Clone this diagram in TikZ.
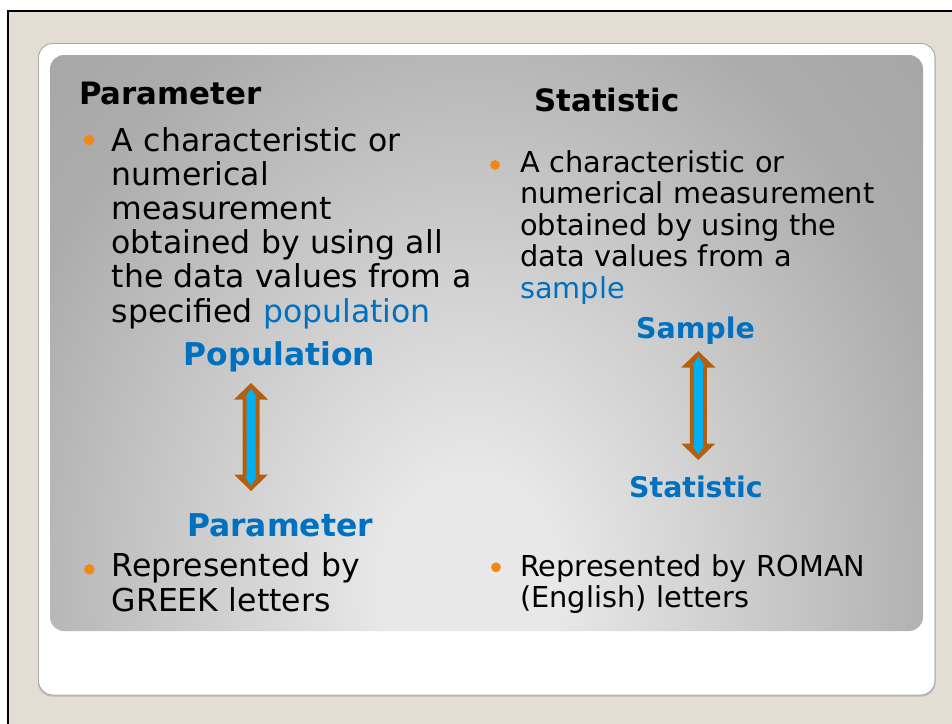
\documentclass[tikz,border=0pt]{standalone}
\usepackage{fontspec}
\setmainfont{DejaVu Sans}
\usetikzlibrary{calc}
\definecolor{beige}{RGB}{227,221,211}
\definecolor{hblue}{RGB}{0,112,192}
\definecolor{bulletc}{RGB}{242,135,20}
\definecolor{abrown}{RGB}{181,95,12}
\definecolor{acyan}{RGB}{0,176,240}
\definecolor{pdark}{RGB}{172,172,172}
\definecolor{pdarker}{RGB}{155,155,155}
\definecolor{plight}{RGB}{232,232,232}
\definecolor{boxedge}{RGB}{170,170,170}
\pgfdeclareradialshading{panelshade}{\pgfpoint{0bp}{0bp}}{color(0bp)=(plight); color(2.5bp)=(plight); color(14bp)=(pdark); color(25bp)=(pdarker); color(50bp)=(pdarker)}
\pgfdeclareverticalshading{boxshade}{100bp}{color(0bp)=(boxedge!45); color(2bp)=(white); color(100bp)=(white)}
\newcommand\dblarrow[1]{%
  \fill[abrown] (#1t) -- ++(17,16.5) -- ++(-8.5,0) -- ($(#1b)+(8.5,-16.5)$) -- ++(8.5,0) -- (#1b)
     -- ++(-17,-16.5) -- ++(8.5,0) -- ($(#1t)+(-8.5,16.5)$) -- ++(-8.5,0) -- cycle;
  \fill[acyan] ($(#1t)+(0,5.5)$) -- ++(6,9) -- ++(-1.5,0) -- ($(#1b)+(4.5,-14.5)$) -- ++(1.5,0) -- ($(#1b)+(0,-5.5)$)
     -- ++(-6,-9) -- ++(1.5,0) -- ($(#1t)+(-4.5,14.5)$) -- ++(-1.5,0) -- cycle;
}
\tikzset{
  titletext/.style={anchor=base west, inner sep=0pt, font=\bfseries\fontsize{30.8pt}{36pt}\selectfont},
  headtext/.style={anchor=base, inner sep=0pt, text=hblue},
  bodytext/.style={anchor=base west, inner sep=0pt, text width=420pt, align=left},
  lbody/.style={bodytext, font=\fontsize{31.5pt}{34.2pt}\selectfont},
  rbody/.style={bodytext, font=\fontsize{28.8pt}{31.5pt}\selectfont},
  bulletdot/.style={fill=bulletc}
}
\begin{document}
\begin{tikzpicture}[x=1pt,y=-1pt]
\useasboundingbox (0,0) rectangle (952,723);
\clip (0,0) rectangle (952,723);
% page background and frame
\fill[white] (0,0) rectangle (952,723);
\fill[beige] (8,11) rectangle (970,740);
\draw[line width=2.5pt] (8,11) rectangle (970,740);
% white card
\fill[boxedge!80, rounded corners=14pt] (38,45) rectangle (935.5,696.5);
\shade[shading=boxshade, rounded corners=14pt] (38.8,43.8) rectangle (934.5,694.8);
\draw[boxedge, line width=0.9pt, rounded corners=14pt] (38.5,43.5) rectangle (935,695);
% grey panel
\begin{scope}
  \clip[rounded corners=14pt] (50,55) rectangle (923,631);
  \shade[shading=panelshade] (-410,-530) rectangle (1350,1710);
\end{scope}
% titles
\node[titletext] (ptitle) at (79,104) {Parameter};
\node[titletext] (stitle) at (534.3,111.7) {Statistic};
% left column
\fill[bulletdot] (89,140) circle (5.3pt);
\node[lbody] (ldef) at (111.5,151) {A characteristic or\\numerical\\measurement\\obtained by using all\\the data values from a\\specified \textcolor{hblue}{population}};
\node[headtext, font=\bfseries\fontsize{31.4pt}{36pt}\selectfont] (pop) at (279.5,365) {Population};
\node[headtext, font=\bfseries\fontsize{31.4pt}{36pt}\selectfont] (par) at (280,536.7) {Parameter};
\coordinate (lat) at (251,383);
\coordinate (lab) at (251,491);
\dblarrow{la}
\fill[bulletdot] (89.3,569.3) circle (5.3pt);
\node[lbody, font=\fontsize{31.5pt}{35pt}\selectfont] (lrep) at (111.5,576.7) {Represented by\\GREEK letters};
% right column
\fill[bulletdot] (495,165) circle (4.9pt);
\node[rbody] (rdef) at (520,172.3) {A characteristic or\\numerical measurement\\obtained by using the\\data values from a\\\textcolor{hblue}{sample}};
\node[headtext, font=\bfseries\fontsize{28.5pt}{34pt}\selectfont] (samp) at (695.5,338.3) {Sample};
\node[headtext, font=\bfseries\fontsize{28.4pt}{34pt}\selectfont] (stat) at (696,497.3) {Statistic};
\coordinate (rat) at (698.3,351);
\coordinate (rab) at (698.3,460);
\dblarrow{ra}
\fill[bulletdot] (496,567.3) circle (4.9pt);
\node[rbody, font=\fontsize{28.8pt}{31pt}\selectfont] (rrep) at (520,576.7) {Represented by ROMAN\\(English) letters};
\end{tikzpicture}
\end{document}
